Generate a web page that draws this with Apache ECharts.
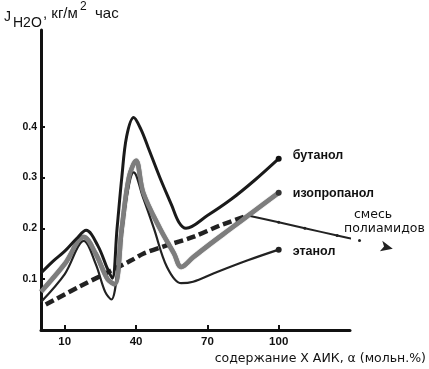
<!DOCTYPE html>
<html><head><meta charset="utf-8">
<script src="https://cdn.jsdelivr.net/npm/echarts@6/dist/echarts.min.js"></script>
<style>html,body{margin:0;padding:0;background:#fff}#c{width:429px;height:369px}</style>
</head><body><div id="c"></div>
<script>
// Data: [alpha (mol.%), J (kg/m2 h)]
const butanol = [[0,0.112],[5,0.135],[10,0.155],[15,0.18],[19,0.196],[24,0.165],[28,0.12],[30,0.102],[32,0.2],[34,0.3],[36,0.38],[39,0.418],[42,0.395],[45,0.36],[50,0.3],[55,0.245],[58,0.212],[61,0.2],[70,0.225],[80,0.257],[90,0.295],[100,0.337]];
const isopropanol = [[0,0.075],[10,0.13],[18,0.183],[23,0.15],[28,0.1],[31,0.09],[34,0.2],[37,0.3],[40,0.333],[43,0.27],[50,0.2],[56,0.15],[59,0.124],[64,0.143],[70,0.165],[80,0.2],[90,0.235],[100,0.27]];
const ethanol = [[0,0.055],[10,0.11],[18,0.175],[23,0.13],[27,0.075],[29.6,0.06],[33,0.15],[36,0.26],[39,0.31],[43,0.26],[47.5,0.2],[53,0.124],[59,0.092],[64,0.095],[73,0.112],[87,0.137],[100,0.158]];
const mixture = [[2,0.05],[16,0.085],[27.5,0.112],[38,0.137],[43,0.15],[52,0.165],[64,0.183],[75,0.205],[87,0.225]];
const mixtureTail = [[87,0.225],[100,0.212],[111,0.2],[124.6,0.186],[134,0.176],[148,0.16]];
const xTicks = [10,40,70,100];
const yTicks = [0.1,0.2,0.3,0.4];
const names = {butanol:'бутанол', isopropanol:'изопропанол', ethanol:'этанол', mixture:'смесь\nполиамидов'};

const chart = echarts.init(document.getElementById('c'), null, {renderer:'canvas'});
const endDot = (n) => (v, p) => p.dataIndex === n - 1 ? 6 : 0;
const lbl = {show:true, fontFamily:'Liberation Sans, Arial, sans-serif', fontWeight:'bold', fontSize:12.5, color:'#111'};
chart.setOption({
  animation:false,
  grid:{left:41, top:30, right:77, bottom:39, containLabel:false},
  xAxis:{type:'value', min:0, max:130,
    axisLine:{lineStyle:{color:'#111', width:3}},
    axisTick:{inside:true, length:5, lineStyle:{color:'#111', width:2}, customValues:xTicks},
    axisLabel:{customValues:xTicks, color:'#111', fontWeight:'bold', fontSize:11.5, fontFamily:'Liberation Sans, Arial, sans-serif', margin:6},
    splitLine:{show:false},
    name:'содержание Х АИК, α (мольн.%)', nameLocation:'end', nameGap:0,
    nameTextStyle:{fontFamily:'DejaVu Sans', fontSize:12.5, color:'#111', align:'right', verticalAlign:'top', padding:[22,-76,0,0]}
  },
  yAxis:{type:'value', min:0, max:0.59,
    axisLine:{show:true, lineStyle:{color:'#111', width:3}},
    axisTick:{show:true, inside:true, length:4, lineStyle:{color:'#111', width:2}, customValues:yTicks},
    axisLabel:{customValues:yTicks, color:'#111', fontWeight:'bold', fontSize:10.5, fontFamily:'Liberation Sans, Arial, sans-serif', margin:4, formatter:v=>v.toFixed(1)},
    splitLine:{show:false}
  },
  series:[
    {name:names.mixture, type:'line', data:mixture, smooth:0.3, showSymbol:false, clip:false,
     lineStyle:{color:'#222', width:4.5, type:[9,4]}},
    {name:names.mixture, type:'line', data:mixtureTail, smooth:0.2, clip:false,
     symbol:(v,p)=>p.dataIndex===mixtureTail.length-1?'arrow':'circle',
     symbolSize:(v,p)=>p.dataIndex===mixtureTail.length-1?[8,12]:(p.dataIndex===0?0:3),
     symbolRotate:(v,p)=>p.dataIndex===mixtureTail.length-1?-103:0,
     itemStyle:{color:'#222'}, lineStyle:{color:'#222', width:2}},
    {name:names.ethanol, type:'line', data:ethanol, smooth:0.35, clip:false,
     symbol:'circle', symbolSize:endDot(ethanol.length), itemStyle:{color:'#222'},
     lineStyle:{color:'#222', width:2.2},
     endLabel:Object.assign({formatter:names.ethanol, offset:[6,2]}, lbl)},
    {name:names.isopropanol, type:'line', data:isopropanol, smooth:0.35, clip:false,
     symbol:'circle', symbolSize:endDot(isopropanol.length), itemStyle:{color:'#333'},
     lineStyle:{color:'#7d7d7d', width:4.5, shadowColor:'rgba(0,0,0,0.6)', shadowBlur:1},
     endLabel:Object.assign({formatter:names.isopropanol, offset:[6,1]}, lbl)},
    {name:names.butanol, type:'line', data:butanol, smooth:0.35, clip:false,
     symbol:'circle', symbolSize:endDot(butanol.length), itemStyle:{color:'#111'},
     lineStyle:{color:'#1a1a1a', width:3},
     endLabel:Object.assign({formatter:names.butanol, offset:[6,-3]}, lbl)}
  ],
  graphic:[
    {type:'text', left:354, top:208, style:{text:'смесь', font:'12.5px DejaVu Sans', fill:'#111'}},
    {type:'text', left:344, top:222, style:{text:'полиамидов', font:'12.5px DejaVu Sans', fill:'#111'}},
    {type:'text', left:4, top:10, style:{text:'J', font:'14px Liberation Sans', fill:'#111'}},
    {type:'text', left:13, top:16, style:{text:'H2O', font:'14px Liberation Sans', fill:'#111'}},
    {type:'text', left:43, top:6, style:{text:', кг/м', font:'15px Liberation Sans', fill:'#111'}},
    {type:'text', left:80, top:1, style:{text:'2', font:'12px Liberation Sans', fill:'#111'}},
    {type:'text', left:95, top:6, style:{text:'час', font:'15px Liberation Sans', fill:'#111'}}
  ]
});
</script></body></html>
